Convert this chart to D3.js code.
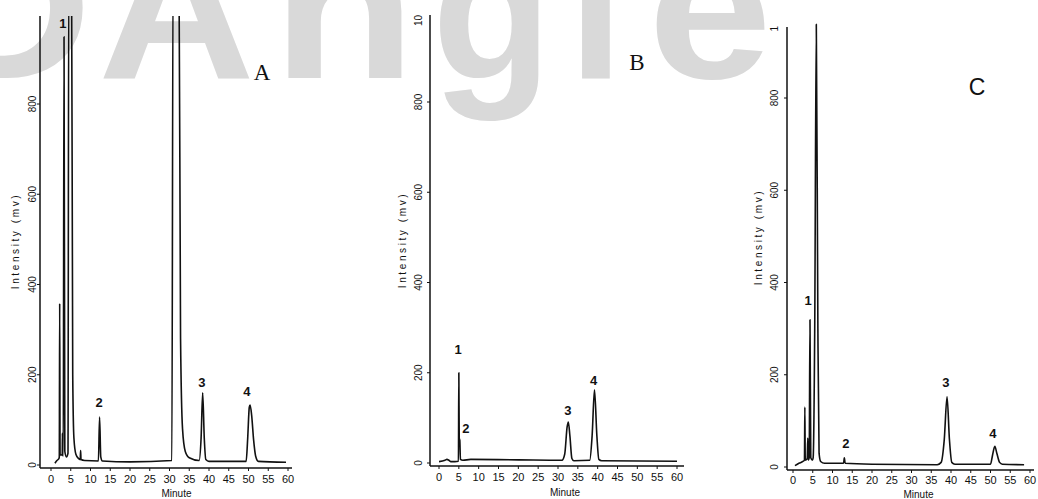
<!DOCTYPE html>
<html>
<head>
<meta charset="utf-8">
<script src="https://cdn.jsdelivr.net/npm/d3@7"></script>
<style>
  html, body { margin: 0; padding: 0; background: #fff; }
  svg { display: block; }
</style>
</head>
<body>
<div id="chart"></div>
<script>
// x ticks (minutes) and y ticks (mV), same for all three runs
const minuteTicks = [0, 5, 10, 15, 20, 25, 30, 35, 40, 45, 50, 55, 60];
const intensityTicks = [0, 200, 400, 600, 800];

// traces: [minute, mV]
const traceA = [
  [1.0, 4], [1.5, 10], [2.0, 14], [2.1, 18], [2.2, 358], [2.3, 22], [2.6, 22],
  [2.85, 24], [2.9, 70], [2.95, 22], [3.1, 20], [3.3, 949], [3.5, 30], [3.9, 18],
  [4.3, 26], [4.5, 1100], [5.2, 1100], [5.5, 200], [5.8, 60], [6.3, 24], [7.0, 14],
  [7.4, 12], [7.5, 32], [7.6, 12], [8.5, 10], [12.0, 9], [12.3, 106], [12.6, 18],
  [13.0, 9], [20, 7], [30.6, 10], [30.9, 1100], [32.4, 1100], [32.8, 280],
  [33.3, 80], [34, 30], [35, 16], [37.5, 10], [38.0, 60], [38.4, 160], [38.8, 60],
  [39.2, 12], [40, 8], [49.4, 8], [49.8, 60], [50.2, 128], [50.4, 133], [50.8, 110],
  [51.3, 55], [51.8, 20], [52.5, 8], [59.5, 6]
];
const traceB = [
  [0, 3], [1.5, 6], [2.0, 8], [2.5, 6], [3.0, 3], [4.0, 3], [4.9, 4], [5.0, 200],
  [5.1, 55], [5.25, 50], [5.4, 8], [6, 6], [8, 8], [20, 7], [31, 6], [31.7, 20],
  [32.3, 80], [32.6, 91], [33.0, 60], [33.5, 10], [34, 5], [38.0, 6], [38.6, 60],
  [39.2, 162], [39.8, 60], [40.3, 8], [41, 5], [60, 4]
];
const traceC = [
  [0.5, 3], [1.5, 8], [2.5, 12], [2.9, 15], [3.0, 130], [3.1, 15], [3.6, 18],
  [3.75, 63], [3.85, 15], [4.1, 20], [4.3, 319], [4.5, 20], [4.9, 15], [5.1, 20],
  [5.5, 300], [5.9, 960], [6.3, 300], [6.6, 30], [7, 12], [8, 8], [12.8, 8],
  [13.0, 20], [13.2, 8], [20, 6], [36.5, 5], [37.5, 10], [38.3, 60], [39.0, 152],
  [39.6, 60], [40.2, 10], [41, 6], [50, 6], [50.5, 25], [51.1, 45], [51.6, 30],
  [52.3, 10], [53, 6], [58.5, 5]
];

// numbered peak labels: [label, minute, mV]
const peakLabelsA = [["1", 3.0, 969], ["2", 12.2, 129], ["3", 38.2, 173], ["4", 49.6, 153]];
const peakLabelsB = [["1", 4.8, 242], ["2", 6.8, 67], ["3", 32.5, 106], ["4", 39.0, 173]];
const peakLabelsC = [["1", 3.8, 351], ["2", 13.4, 41], ["3", 38.7, 174], ["4", 50.6, 63]];

const panelNames = ["A", "B", "C"];
const watermarkLetters = ["D", "A", "n", "g", "l", "e"];

class ChromPanel {
  constructor(svg, opt) {
    this.svg = svg;
    this.opt = opt;
    this.x = d3.scaleLinear().domain([0, 60]).range([opt.x0, opt.x60]);
    this.y = d3.scaleLinear().domain([0, 800]).range([opt.y0, opt.y800]);
  }
  draw() {
    const o = this.opt, x = this.x, y = this.y;
    const g = this.svg.append("g").attr("class", "panel-" + o.name);
    const sans = "Liberation Sans, Arial, sans-serif";

    g.append("clipPath").attr("id", "clip" + o.name)
      .append("rect")
      .attr("x", o.axisX).attr("y", o.clipTop)
      .attr("width", o.axisRight - o.axisX).attr("height", o.axisBottom - o.clipTop);

    // axes lines
    g.append("line")
      .attr("x1", o.axisX).attr("x2", o.axisX)
      .attr("y1", o.axisTop).attr("y2", o.axisBottom)
      .style("stroke", "#111").style("stroke-width", "1.5px");
    g.append("line")
      .attr("x1", o.axisX).attr("x2", o.axisRight)
      .attr("y1", o.axisBottom).attr("y2", o.axisBottom)
      .style("stroke", "#111").style("stroke-width", "1.5px");

    // x ticks + labels
    g.selectAll(".xt").data(minuteTicks).enter().append("line")
      .attr("x1", d => x(d)).attr("x2", d => x(d))
      .attr("y1", o.axisBottom).attr("y2", o.axisBottom + 3)
      .style("stroke", "#111").style("stroke-width", "1px");
    g.selectAll(".xl").data(minuteTicks).enter().append("text")
      .attr("x", d => x(d)).attr("y", o.xLabelY)
      .attr("text-anchor", "middle")
      .style("font-family", sans)
      .style("font-size", "11px").style("fill", "#111")
      .text(d => d);

    // y ticks + rotated labels
    g.selectAll(".yt").data(intensityTicks).enter().append("line")
      .attr("x1", o.axisX - 3).attr("x2", o.axisX)
      .attr("y1", d => y(d)).attr("y2", d => y(d))
      .style("stroke", "#111").style("stroke-width", "1px");
    g.selectAll(".yl").data(intensityTicks).enter().append("text")
      .attr("transform", d => "translate(" + (o.yLabelX + 3) + "," + y(d) + ") rotate(-90)")
      .attr("text-anchor", "middle")
      .style("font-family", sans)
      .style("font-size", "10px").style("fill", "#111")
      .text(d => d);
    // partly printed top tick label (scan shows only its first digits)
    if (o.topTick) {
      g.append("text")
        .attr("transform", "translate(" + (o.yLabelX + 3) + "," + y(o.topTick[0]) + ") rotate(-90)")
        .attr("text-anchor", "end")
        .style("font-family", sans)
        .style("font-size", "10px").style("fill", "#111")
        .text(o.topTick[1]);
    }

    // axis titles
    g.append("text")
      .attr("transform", "translate(" + (o.titleX + 4) + "," + o.titleY + ") rotate(-90)")
      .attr("text-anchor", "middle")
      .style("font-family", sans)
      .style("font-size", "10px").style("letter-spacing", "2.6px").style("fill", "#111")
      .text("Intensity (mv)");
    g.append("text")
      .attr("x", (x(0) + x(60)) / 2 + 7).attr("y", o.minuteY)
      .attr("text-anchor", "middle")
      .style("font-family", sans)
      .style("font-size", "10px").style("fill", "#111")
      .text("Minute");

    // trace
    const line = d3.line().x(d => x(d[0])).y(d => y(d[1])).curve(d3.curveMonotoneX);
    g.append("path")
      .datum(o.trace)
      .attr("clip-path", "url(#clip" + o.name + ")")
      .attr("d", line)
      .style("fill", "none").style("stroke", "#111")
      .style("stroke-width", "1.6px").style("stroke-linejoin", "round");

    // peak numbers
    g.selectAll(".pk").data(o.peaks).enter().append("text")
      .attr("x", d => x(d[1])).attr("y", d => y(d[2]))
      .attr("text-anchor", "middle")
      .style("font-family", sans)
      .style("font-weight", "bold").style("font-size", "13px").style("fill", "#111")
      .text(d => d[0]);

    // panel letter
    g.append("text")
      .attr("x", o.letterX).attr("y", o.letterY)
      .attr("text-anchor", "middle")
      .style("font-family", o.letterFont)
      .style("font-size", "23px").style("fill", "#111")
      .text(o.name);
  }
}

const svg = d3.select("#chart").append("svg")
  .attr("width", 1038).attr("height", 499);

// grey watermark behind everything: each letter stretched to its span
const watermarkSpan = [[-70, 92], [98, 255], [272, 416], [432, 552], [568, 624], [648, 772]];
svg.append("g").attr("class", "watermark")
  .selectAll("text").data(watermarkLetters).enter().append("text")
  .style("font-family", "Liberation Sans, Arial, sans-serif")
  .style("font-weight", "bold").style("font-size", "200px")
  .style("fill", "#d9d9d9")
  .text(d => d)
  .attr("transform", function(d, i) {
    const bb = this.getBBox();
    const s = (watermarkSpan[i][1] - watermarkSpan[i][0]) / bb.width;
    return "translate(" + (watermarkSpan[i][0] - bb.x * s) + ",78) scale(" + s + ",1)";
  });

const layouts = [
  { x0: 51, x60: 288, y0: 465, y800: 104, axisX: 40, axisTop: 16, axisBottom: 468, axisRight: 292,
    clipTop: 16, xLabelY: 483, minuteY: 497, yLabelX: 33, titleX: 15, titleY: 241,
    letterX: 262, letterY: 80, letterFont: "Liberation Serif, Times New Roman, serif",
    trace: traceA, peaks: peakLabelsA },
  { x0: 439, x60: 677, y0: 463, y800: 102, axisX: 430, axisTop: 15, axisBottom: 466, axisRight: 684,
    clipTop: 15, xLabelY: 481, minuteY: 496, yLabelX: 419, titleX: 402, titleY: 240,
    letterX: 637, letterY: 70, letterFont: "Liberation Serif, Times New Roman, serif",
    trace: traceB, peaks: peakLabelsB, topTick: [993, "10"] },
  { x0: 793, x60: 1030, y0: 467, y800: 98, axisX: 787, axisTop: 27, axisBottom: 470, axisRight: 1034,
    clipTop: 22, xLabelY: 484, minuteY: 498, yLabelX: 775, titleX: 758, titleY: 237,
    letterX: 977, letterY: 95, letterFont: "Liberation Sans, Arial, sans-serif",
    trace: traceC, peaks: peakLabelsC, topTick: [956, "1"] }
];

panelNames.forEach((name, i) => {
  new ChromPanel(svg, Object.assign({ name: name }, layouts[i])).draw();
});
</script>
</body>
</html>
